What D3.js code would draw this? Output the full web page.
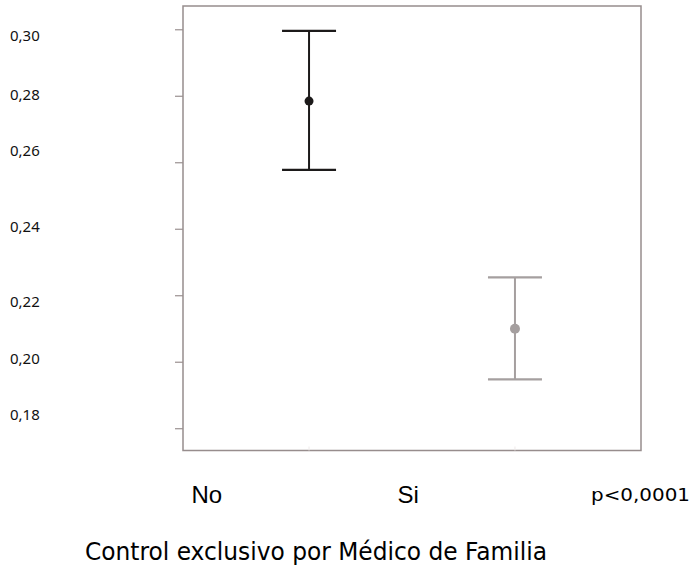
<!DOCTYPE html>
<html>
<head>
<meta charset="utf-8">
<script src="https://cdn.jsdelivr.net/npm/d3@7"></script>
<style>
  html, body { margin: 0; padding: 0; background: #fff; }
  svg { display: block; }
</style>
</head>
<body>
<svg id="chart" width="694" height="578"></svg>
<script>
// ---- data ----
const categories = ["No", "Si"];
const means = [0.2784, 0.2099];
const lowerCI = [0.2577, 0.1947];
const upperCI = [0.2995, 0.2254];
const tickValues = [0.30, 0.28, 0.26, 0.24, 0.22, 0.20, 0.18];
const tickLabels = ["0,30", "0,28", "0,26", "0,24", "0,22", "0,20", "0,18"];
const pValueText = "p<0,0001";
const xTitle = "Control exclusivo por Médico de Familia";

// ---- layout / style ----
const box = { left: 183, right: 641, top: 6, bottom: 450.5 };
const seriesColors = ["#1c1a1a", "#a59f9f"];
const dotRadius = [4.5, 5];
const capHalf = 27;
// per-label vertical nudges (labels in the original are not exactly on their ticks)
const labelNudge = [5.7, -2, -12.7, -2.7, 6, -3.3, -14.3];

const svg = d3.select("#chart");

const y = d3.scaleLinear().domain([0.1733, 0.307]).range([box.bottom, box.top]);
const x = d3.scalePoint().domain(categories).range([box.left, box.right]).padding(0.612);

// plot frame
svg.append("rect")
  .attr("x", box.left).attr("y", box.top)
  .attr("width", box.right - box.left).attr("height", box.bottom - box.top)
  .attr("fill", "none").attr("stroke", "#978d8d").attr("stroke-width", 1.5);

// y axis ticks via d3 axis (labels drawn separately)
const yAxis = d3.axisLeft(y).tickValues(tickValues).tickSize(8).tickFormat("");
const gAxis = svg.append("g").attr("transform", `translate(${box.left},0)`).call(yAxis);
gAxis.select(".domain").remove();
gAxis.selectAll(".tick line").attr("stroke", "#9a9090").attr("stroke-width", 1.2);

// y tick labels
svg.append("g").selectAll("text")
  .data(tickValues)
  .join("text")
  .attr("x", 10)
  .attr("y", (d, i) => y(d) + labelNudge[i])
  .attr("dominant-baseline", "central")
  .attr("font-family", "Noto Sans, DejaVu Sans, sans-serif")
  .attr("font-size", 15)
  .attr("fill", "#111")
  .text((d, i) => tickLabels[i]);

// faint bottom ticks
svg.append("g").selectAll("line")
  .data(categories)
  .join("line")
  .attr("x1", d => x(d)).attr("x2", d => x(d))
  .attr("y1", box.bottom - 4).attr("y2", box.bottom)
  .attr("stroke", "#eeeaea").attr("stroke-width", 1);

// error bars
const g = svg.append("g");
categories.forEach((c, i) => {
  const cx = x(c);
  const col = seriesColors[i];
  g.append("line")
    .attr("x1", cx).attr("x2", cx)
    .attr("y1", y(upperCI[i])).attr("y2", y(lowerCI[i]))
    .attr("stroke", col).attr("stroke-width", 2);
  [upperCI[i], lowerCI[i]].forEach(v => {
    g.append("line")
      .attr("x1", cx - capHalf).attr("x2", cx + capHalf)
      .attr("y1", y(v)).attr("y2", y(v))
      .attr("stroke", col).attr("stroke-width", 2.2);
  });
  g.append("circle")
    .attr("cx", cx).attr("cy", y(means[i]))
    .attr("r", dotRadius[i])
    .attr("fill", col);
});

// category labels
svg.append("g").selectAll("text")
  .data(categories)
  .join("text")
  .attr("x", d => x(d) - 117.5)
  .attr("y", 503)
  .attr("font-family", "Liberation Sans, Arial, sans-serif")
  .attr("font-size", 24)
  .attr("fill", "#000")
  .text(d => d);

// p-value
svg.append("text")
  .attr("x", 591).attr("y", 500.5)
  .attr("font-family", "DejaVu Sans, Verdana, sans-serif")
  .attr("font-size", 17.5)
  .attr("textLength", 99)
  .attr("lengthAdjust", "spacingAndGlyphs")
  .attr("fill", "#000")
  .text(pValueText);

// x title
svg.append("text")
  .attr("x", 85).attr("y", 559.5)
  .attr("font-family", "DejaVu Sans, Verdana, sans-serif")
  .attr("font-size", 25)
  .attr("textLength", 462)
  .attr("lengthAdjust", "spacingAndGlyphs")
  .attr("fill", "#000")
  .text(xTitle);
</script>
</body>
</html>
